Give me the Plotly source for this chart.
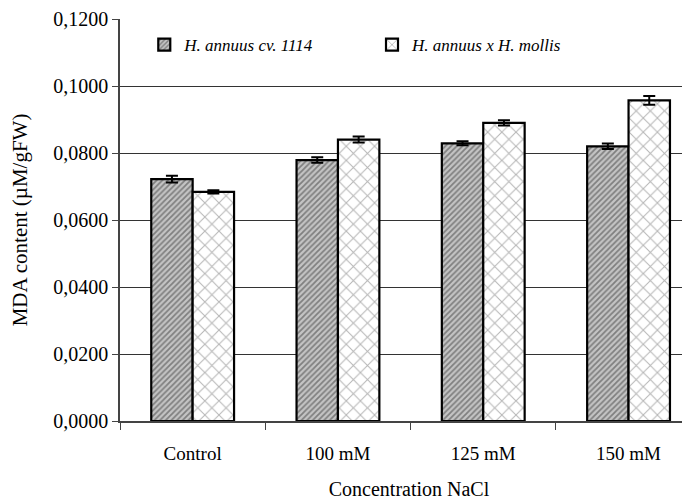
import plotly.graph_objects as go

categories = ["Control", "100 mM", "125 mM", "150 mM"]
series_names = ["H. annuus cv. 1114", "H. annuus x H. mollis"]
cv1114 = [0.0722, 0.0779, 0.0829, 0.0820]
cv1114_err = [0.0010, 0.0008, 0.0006, 0.0008]
hybrid = [0.0684, 0.0840, 0.0890, 0.0957]
hybrid_err = [0.0005, 0.0009, 0.0008, 0.0013]
y_ticks = [0.0, 0.02, 0.04, 0.06, 0.08, 0.10, 0.12]
y_ticktext = ["0,0000", "0,0200", "0,0400", "0,0600", "0,0800", "0,1000", "0,1200"]

FONT = "Liberation Serif"
xpos = list(range(len(categories)))

fig = go.Figure()
fig.add_trace(go.Bar(
    x=xpos, y=cv1114, name="<i>" + series_names[0] + "</i>", legend="legend",
    error_y=dict(type="data", array=cv1114_err, color="black", thickness=2, width=6),
    marker=dict(color="white", line=dict(color="black", width=2.2),
                pattern=dict(shape="/", fgcolor="#3a3a3a", bgcolor="#c4c4c4", size=4, solidity=0.45)),
))
fig.add_trace(go.Bar(
    x=xpos, y=hybrid, name="<i>" + series_names[1] + "</i>", legend="legend2",
    error_y=dict(type="data", array=hybrid_err, color="black", thickness=2, width=6),
    marker=dict(color="white", line=dict(color="black", width=2.2),
                pattern=dict(shape="x", fgcolor="#6e6e6e", bgcolor="white", size=10, solidity=0.2)),
))

legend_common = dict(orientation="h", yanchor="middle", y=0.935, xanchor="left",
                     font=dict(family="Liberation Serif, serif", size=17, color="black"),
                     bgcolor="rgba(0,0,0,0)", itemwidth=30)

fig.update_layout(
    width=690, height=492,
    margin=dict(l=112, r=0, t=11, b=79),
    paper_bgcolor="white", plot_bgcolor="white",
    barmode="group", bargap=0.43, bargroupgap=0,
    font=dict(family=FONT, size=20, color="black"),
    showlegend=True,
    legend=dict(x=0.042, **legend_common),
    legend2=dict(x=0.436, **legend_common),
    xaxis=dict(
        range=[-0.5, 3.478], tickmode="array", tickvals=xpos, ticktext=categories,
        ticks="", showgrid=False, zeroline=False, automargin=False,
        showline=True, linecolor="#444444", linewidth=1.5,
        tickfont=dict(family=FONT, size=19), ticklabelstandoff=14,
        minor=dict(tickmode="array", tickvals=[-0.5, 0.5, 1.5, 2.5], ticks="outside",
                   ticklen=7, tickcolor="#444444", tickwidth=1, showgrid=False),
        title=dict(text="Concentration NaCl", font=dict(family=FONT, size=20), standoff=22),
    ),
    yaxis=dict(
        range=[0, 0.12], tickmode="array", tickvals=y_ticks, ticktext=y_ticktext,
        ticks="outside", ticklen=6, tickcolor="#444444", automargin=False,
        showgrid=True, gridcolor="#333333", gridwidth=1,
        showline=True, linecolor="#444444", linewidth=1.5, zeroline=False,
        tickfont=dict(family=FONT, size=20),
        title=dict(text="MDA content (µM/gFW)", font=dict(family=FONT, size=21), standoff=22),
    ),
)

fig.write_html("out.html")
